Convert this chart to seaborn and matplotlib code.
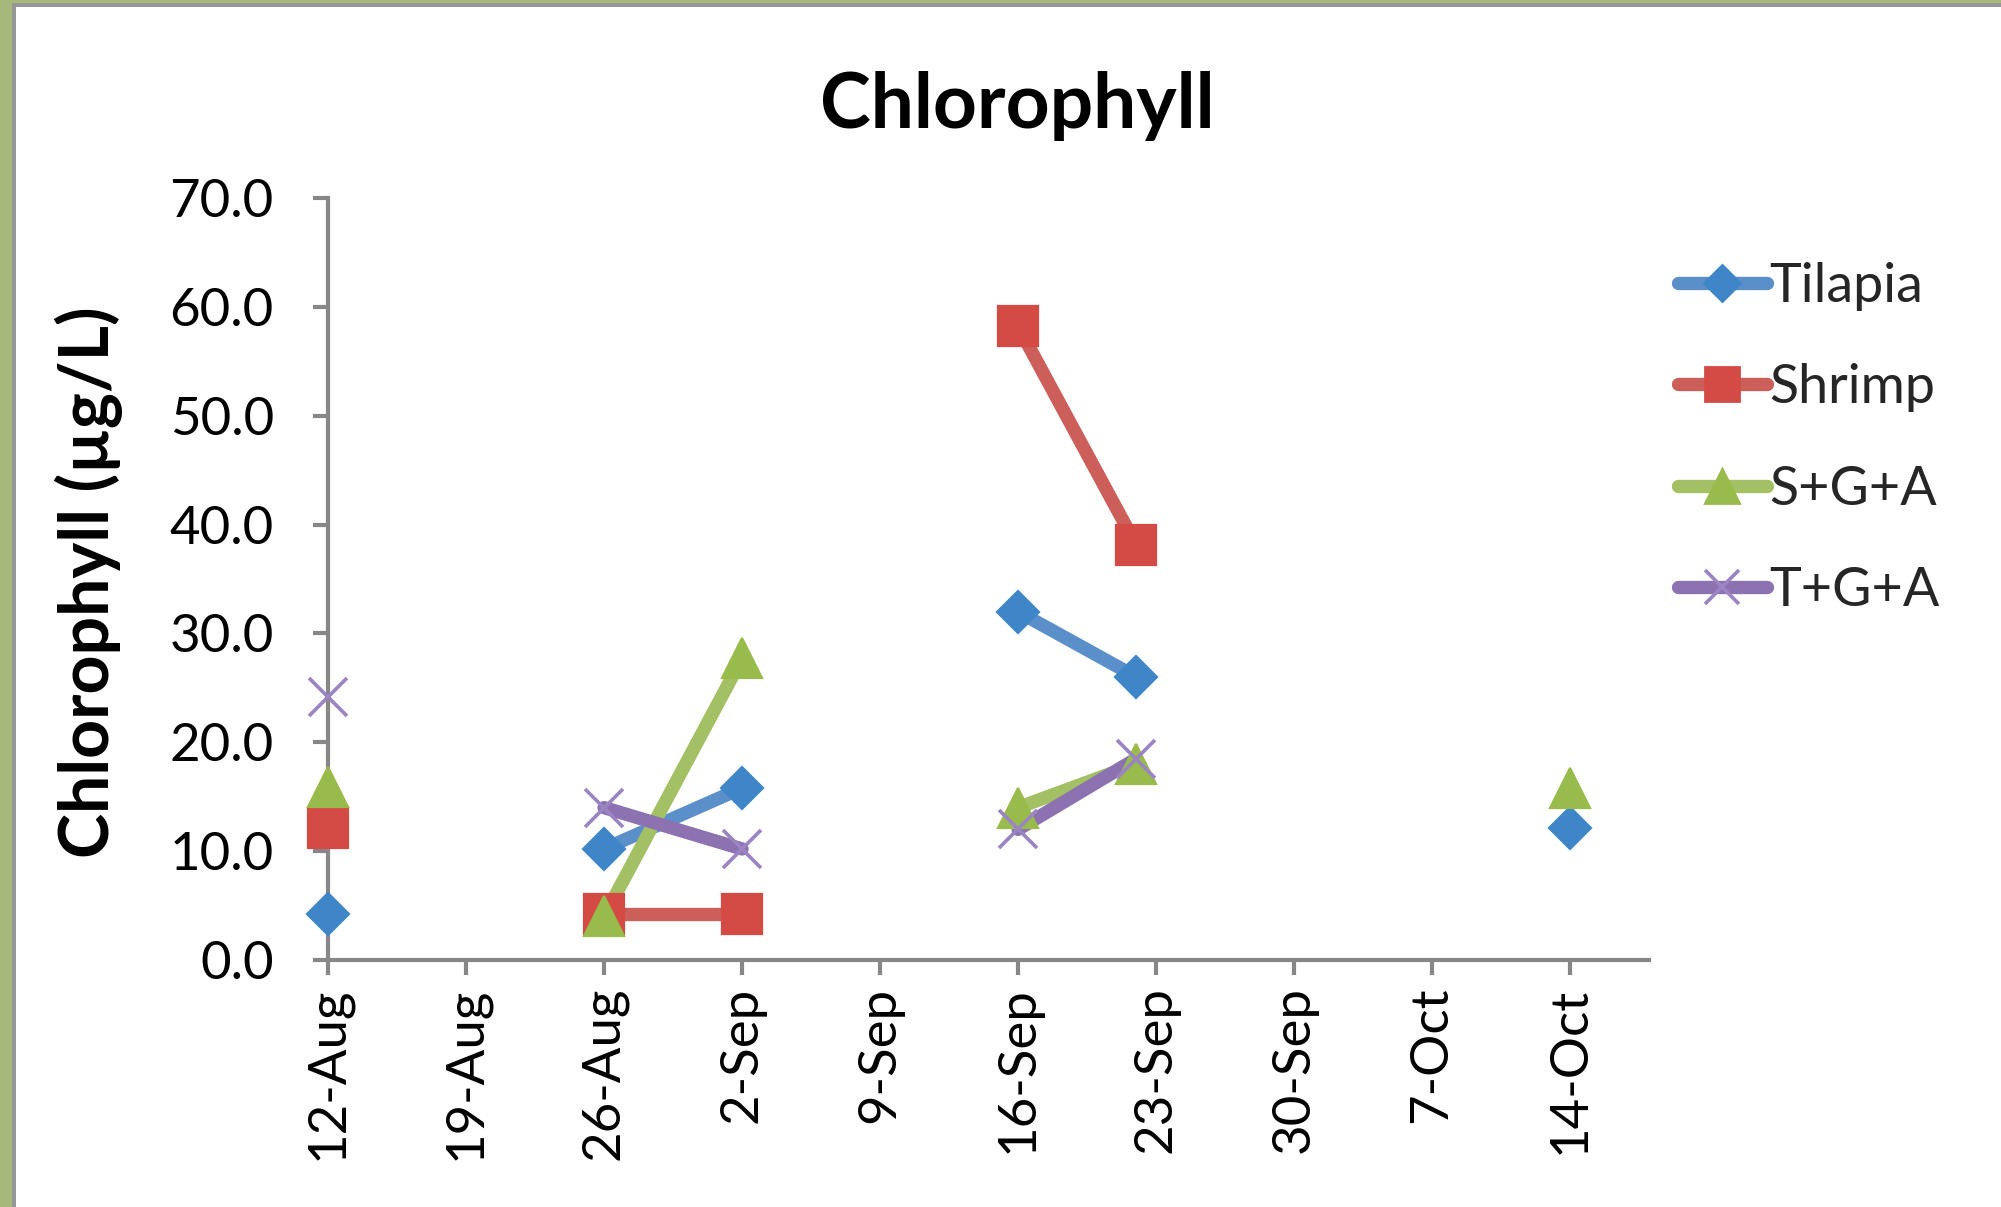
import numpy as np
import pandas as pd
import matplotlib
matplotlib.use("Agg")
import matplotlib.pyplot as plt
from matplotlib.lines import Line2D
from matplotlib.patches import Rectangle
import seaborn as sns

# ---------------- data ----------------
week_labels = ["12-Aug", "19-Aug", "26-Aug", "2-Sep", "9-Sep",
               "16-Sep", "23-Sep", "30-Sep", "7-Oct", "14-Oct"]
tick_dates = pd.to_datetime([f"{d}-2013" for d in week_labels], format="%d-%b-%Y")

sample_days = ["12-Aug", "19-Aug", "26-Aug", "2-Sep", "9-Sep",
               "16-Sep", "22-Sep", "30-Sep", "7-Oct", "14-Oct"]
sample_dates = pd.to_datetime([f"{d}-2013" for d in sample_days], format="%d-%b-%Y")

series_names = ["Tilapia", "Shrimp", "S+G+A", "T+G+A"]
tilapia = [4.2, np.nan, 10.2, 15.8, np.nan, 32.0, 26.0, np.nan, np.nan, 12.1]
shrimp = [12.1, np.nan, 4.2, 4.2, np.nan, 58.2, 38.1, np.nan, np.nan, np.nan]
sga = [15.9, np.nan, 4.0, 27.7, np.nan, 14.0, 18.0, np.nan, np.nan, 15.8]
tga = [24.2, np.nan, 14.0, 10.2, np.nan, 12.0, 18.5, np.nan, np.nan, np.nan]
values = [tilapia, shrimp, sga, tga]

y_ticks = [0, 10, 20, 30, 40, 50, 60, 70]

# ---------------- styles ----------------
line_colors = ["#5b8fc9", "#cd5f5a", "#a3c064", "#8c72b0"]
marker_colors = ["#3f86c8", "#d44b45", "#98bb4b", "#9a84c2"]
markers = ["D", "s", "^", "x"]
msizes = [10.5, 14.5, 14.5, 13.5]

W, H, DPI = 2001, 1207, 200
sns.set_theme(style="white")
plt.rcParams["font.family"] = ["Lato", "DejaVu Sans"]

fig = plt.figure(figsize=(W / DPI, H / DPI), dpi=DPI)
fig.patch.set_facecolor("white")

def fx(px):
    return px / W

def fy(py):
    return 1 - py / H

ax_left, ax_right, ax_top, ax_bot = 328, 1649, 198, 960
ax = fig.add_axes([fx(ax_left), fy(ax_bot), fx(ax_right - ax_left), (ax_bot - ax_top) / H])
ax.set_facecolor("white")

lw = 4.8
for name, vals, lc, mc, mk, ms in zip(series_names, values, line_colors,
                                        marker_colors, markers, msizes):
    df = pd.DataFrame({"date": sample_dates, "value": vals})
    df["seg"] = df["value"].isna().cumsum()
    df = df.dropna()
    for _, g in df.groupby("seg"):
        sns.lineplot(data=g, x="date", y="value", ax=ax, color=lc, lw=lw,
                     solid_capstyle="round", legend=False, zorder=3)
        if mk == "x":
            ax.plot(g["date"], g["value"], ls="none", marker=mk, ms=ms,
                    mew=1.3, color=mc, zorder=4, clip_on=False)
        else:
            ax.plot(g["date"], g["value"], ls="none", marker=mk, ms=ms,
                    mfc=mc, mec=mc, mew=0.8, zorder=4, clip_on=False)

# axes formatting
ax.set_ylim(0, 70)
ax.set_yticks(y_ticks)
ax.set_yticklabels([f"{v:.1f}" for v in y_ticks])
ax.set_xlim(tick_dates[0], tick_dates[-1] + pd.Timedelta(days=4))
ax.set_xticks(tick_dates)
ax.set_xticklabels(week_labels, rotation=90, va="top", ha="center")
ax.set_xlabel("")
ax.set_ylabel("")

spine_c = "#878787"
for s in ["top", "right"]:
    ax.spines[s].set_visible(False)
for s in ["left", "bottom"]:
    ax.spines[s].set_color(spine_c)
    ax.spines[s].set_linewidth(1.5)
    ax.spines[s].set_zorder(2)
ax.tick_params(axis="both", which="major", direction="out", length=5.5,
               width=1.5, color=spine_c, labelsize=19, labelcolor="black",
               left=True, bottom=True)
ax.tick_params(axis="y", pad=14)
ax.tick_params(axis="x", pad=4)
ax.grid(False)

# title and y label
fig.text(fx(1017), fy(128), "Chlorophyll", ha="center", va="baseline",
         fontsize=27.6, fontweight="bold", color="black")
fig.text(fx(89), fy(582), "Chlorophyll (µg/L)", ha="center", va="center",
         rotation=90, fontsize=24.5, fontweight="bold", color="black")

# legend
handles = []
for lc, mc, mk, ms in zip(line_colors, marker_colors, markers, msizes):
    if mk == "x":
        h = Line2D([], [], color=lc, lw=lw, solid_capstyle="round", marker=mk,
                   ms=ms * 0.9, mew=1.3, mec=mc)
    else:
        h = Line2D([], [], color=lc, lw=lw, solid_capstyle="round", marker=mk,
                   ms=ms * 0.85, mfc=mc, mec=mc)
    handles.append(h)
fig.legend(handles, series_names, loc="upper left",
           bbox_to_anchor=(fx(1678), fy(262)), frameon=False, fontsize=19.4,
           handlelength=1.65, handletextpad=0.05, labelspacing=0.97,
           borderpad=0, borderaxespad=0)

# outer frame (green + gray border on left and top)
fig.add_artist(Rectangle((0, 0), fx(12), 1, transform=fig.transFigure,
                         facecolor="#a6b97a", edgecolor="none", zorder=10))
fig.add_artist(Rectangle((fx(12), 0), fx(4), fy(3), transform=fig.transFigure,
                         facecolor="#979797", edgecolor="none", zorder=10))
fig.add_artist(Rectangle((0, fy(3)), 1, 3 / H, transform=fig.transFigure,
                         facecolor="#a6b97a", edgecolor="none", zorder=10))
fig.add_artist(Rectangle((fx(12), fy(7)), 1, 4 / H, transform=fig.transFigure,
                         facecolor="#979797", edgecolor="none", zorder=10))

fig.savefig("out.png", dpi=DPI, facecolor="white")
